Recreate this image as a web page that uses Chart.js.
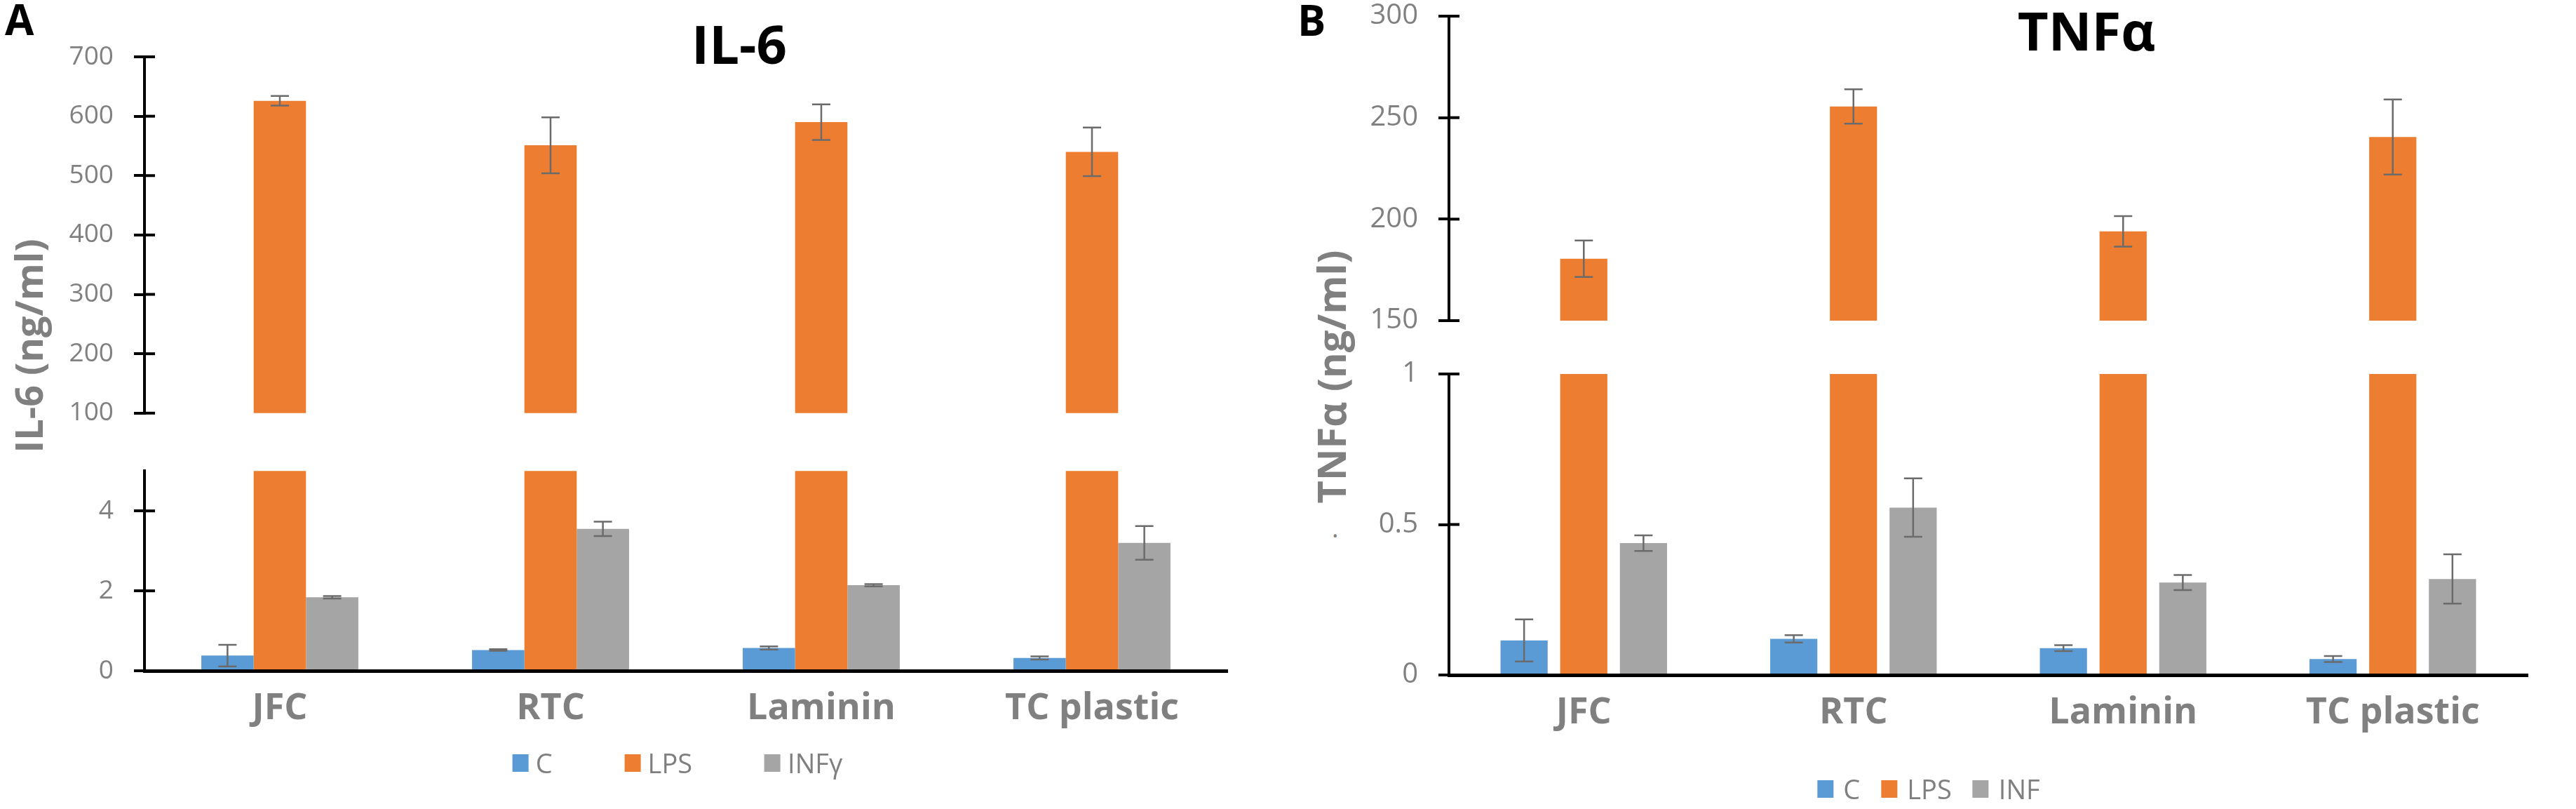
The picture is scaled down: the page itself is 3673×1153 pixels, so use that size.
<!DOCTYPE html>
<html>
<head>
<meta charset="utf-8">
<script src="https://cdn.jsdelivr.net/npm/chart.js@4.4.1/dist/chart.umd.min.js"></script>
<style>
  html, body { margin: 0; padding: 0; background: #fff; }
  body { position: relative; width: 3673px; height: 1153px; overflow: hidden; font-family: "Open Sans", sans-serif; }
  canvas { position: absolute; }
  .txt { position: absolute; line-height: 1; white-space: nowrap; }
  .mid { transform: translateX(-50%); }
  .ytitle { transform: translate(-50%, -50%) rotate(-90deg); font-weight: 700; color: #808080; }
  .legend { position: absolute; display: flex; align-items: center; transform: translateX(-50%); height: 40px; font-size: 38px; line-height: 1; color: #7f7f7f; white-space: nowrap; }
  .legend .item { display: flex; align-items: center; }
  .legend .box { display: inline-block; width: 23px; height: 25px; }
</style>
</head>
<body>

<div class="txt" style="left:7px;top:-3px;font-size:60px;font-weight:700;color:#000">A</div>
<div class="txt" style="left:1850px;top:-2px;font-size:60px;font-weight:700;color:#000">B</div>
<div class="txt mid" style="left:1054px;top:24px;font-size:76px;font-weight:700;color:#000">IL-6</div>
<div class="txt mid" style="left:2975px;top:5px;font-size:76px;font-weight:700;color:#000">TNFα</div>
<div class="txt ytitle" style="left:40px;top:493px;font-size:54px">IL-6 (ng/ml)</div>
<div class="txt ytitle" style="left:1897px;top:537px;font-size:56px">TNFα (ng/ml)</div>
<div class="txt" style="left:1899px;top:735px;font-size:36px;color:#808080">.</div>

<canvas id="aTop"></canvas>
<canvas id="aBottom"></canvas>
<canvas id="bTop"></canvas>
<canvas id="bBottom"></canvas>
<div class="legend" id="legendA"></div>
<div class="legend" id="legendB"></div>

<script>
// categories and series
var categories = ['JFC', 'RTC', 'Laminin', 'TC plastic'];
var seriesA = ['C', 'LPS', 'INFγ'];
var seriesB = ['C', 'LPS', 'INF'];

// IL-6 (ng/ml), mean and error
var il6C = [0.38, 0.52, 0.57, 0.32];
var il6CErr = [0.27, 0.02, 0.04, 0.04];
var il6LPS = [626, 551, 590, 540];
var il6LPSErr = [8, 47, 30, 41];
var il6INF = [1.84, 3.55, 2.14, 3.20];
var il6INFErr = [0.03, 0.18, 0.03, 0.42];

// TNFα (ng/ml), mean and error
var tnfC = [0.115, 0.12, 0.089, 0.053];
var tnfCErr = [0.07, 0.012, 0.01, 0.01];
var tnfLPS = [180.5, 255.5, 194, 240.5];
var tnfLPSErr = [9, 8.5, 7.5, 18.5];
var tnfINF = [0.438, 0.556, 0.307, 0.319];
var tnfINFErr = [0.026, 0.097, 0.025, 0.082];

// tick labels of the broken axes
var il6TopTicks = [100, 200, 300, 400, 500, 600, 700];
var il6BottomTicks = [0, 2, 4];
var tnfTopTicks = [150, 200, 250, 300];
var tnfBottomTicks = [0, 0.5, 1];

var colC = '#5B9BD5', colLPS = '#ED7D31', colINF = '#A5A5A5';
var grey = '#808080';

Chart.defaults.font.family = '"Open Sans", sans-serif';

// error bars, only where the mean sits inside this part of the axis
var errorBars = {
  id: 'errorBars',
  afterDatasetsDraw: function(chart) {
    var ctx = chart.ctx, ys = chart.scales.y;
    chart.data.datasets.forEach(function(ds, di) {
      if (!ds.errors) return;
      chart.getDatasetMeta(di).data.forEach(function(bar, i) {
        var v = ds.data[i], e = ds.errors[i];
        if (v == null || v > ys.max || v < ys.min) return;
        var x = bar.x;
        var y1 = ys.getPixelForValue(v - e), y2 = ys.getPixelForValue(v + e);
        ctx.save();
        ctx.strokeStyle = '#6b6b6b';
        ctx.lineWidth = 2.5;
        ctx.beginPath();
        ctx.moveTo(x, y1); ctx.lineTo(x, y2);
        ctx.moveTo(x - 13, y1); ctx.lineTo(x + 13, y1);
        ctx.moveTo(x - 13, y2); ctx.lineTo(x + 13, y2);
        ctx.stroke();
        ctx.restore();
      });
    });
  }
};

// ticks cross the axis: draw the inner half
var crossTicks = {
  id: 'crossTicks',
  afterDraw: function(chart) {
    var s = chart.scales.y, ctx = chart.ctx;
    ctx.save();
    ctx.strokeStyle = '#000';
    ctx.lineWidth = 4;
    s.ticks.forEach(function(t, i) {
      var y = s.getPixelForTick(i);
      ctx.beginPath();
      ctx.moveTo(s.right, y);
      ctx.lineTo(s.right + 15, y);
      ctx.stroke();
    });
    ctx.restore();
  }
};

// legend as html, built from the chart's own legend items
var htmlLegend = {
  id: 'htmlLegend',
  afterUpdate: function(chart, args, opts) {
    var box = document.getElementById(opts.containerID);
    if (!box) return;
    box.innerHTML = '';
    var items = chart.options.plugins.legend.labels.generateLabels(chart);
    items.forEach(function(item, i) {
      var el = document.createElement('span');
      el.className = 'item';
      if (i > 0) el.style.marginLeft = opts.itemGap + 'px';
      var sw = document.createElement('span');
      sw.className = 'box';
      sw.style.background = item.fillStyle;
      sw.style.marginRight = opts.textGap + 'px';
      el.appendChild(sw);
      el.appendChild(document.createTextNode(item.text));
      box.appendChild(el);
    });
    box.style.left = opts.cx + 'px';
    box.style.top = (opts.cy - 20) + 'px';
  }
};

function makeDatasets(names, c, cErr, lps, lpsErr, inf, infErr) {
  return [
    { label: names[0], data: c, errors: cErr, backgroundColor: colC, clip: 0 },
    { label: names[1], data: lps, errors: lpsErr, backgroundColor: colLPS, clip: 0 },
    { label: names[2], data: inf, errors: infErr, backgroundColor: colINF, clip: 0 }
  ];
}

// one half of a broken-axis panel; area is the plot box in page pixels
function half(p) {
  var cv = document.getElementById(p.id);
  cv.width = p.w; cv.height = p.h;
  cv.style.left = p.left + 'px';
  cv.style.top = p.top + 'px';
  var xH = p.showX ? 100 : 0;
  return new Chart(cv, {
    type: 'bar',
    data: { labels: categories, datasets: p.datasets },
    options: {
      responsive: false,
      animation: false,
      events: [],
      layout: {
        padding: {
          left: 0,
          top: p.area.t - p.top,
          right: p.left + p.w - p.area.r,
          bottom: p.top + p.h - p.area.b - xH
        }
      },
      datasets: { bar: { barPercentage: p.barPct, categoryPercentage: p.catPct, borderWidth: 0 } },
      plugins: {
        legend: { display: false },
        tooltip: { enabled: false },
        htmlLegend: p.legend || {}
      },
      scales: {
        x: {
          display: p.showX,
          grid: { display: false, drawTicks: false },
          border: { display: true, color: '#000', width: 5 },
          ticks: { color: grey, padding: 23, font: { size: 52, weight: 'bold' } },
          afterFit: function(s) { s.height = xH; }
        },
        y: {
          min: p.min, max: p.max,
          grid: { display: true, drawOnChartArea: false, drawTicks: true, tickLength: 15, color: '#000', lineWidth: 4 },
          border: { display: true, color: '#000', width: 4 },
          ticks: {
            color: grey, padding: 29, font: { size: p.tickSize },
            callback: function(v) { return String(v); }
          },
          afterBuildTicks: function(s) { s.ticks = p.ticks.map(function(v) { return { value: v }; }); },
          afterFit: function(s) { s.width = p.area.l - p.left; }
        }
      }
    },
    plugins: [errorBars, crossTicks, htmlLegend]
  });
}

var dsA = makeDatasets(seriesA, il6C, il6CErr, il6LPS, il6LPSErr, il6INF, il6INFErr);
var dsB = makeDatasets(seriesB, tnfC, tnfCErr, tnfLPS, tnfLPSErr, tnfINF, tnfINFErr);

half({ id: 'aTop', left: 0, top: -20, w: 1760, h: 660,
  area: { l: 206, r: 1750, t: 81, b: 598 }, min: 100, max: 700, ticks: il6TopTicks,
  showX: false, barPct: 1, catPct: 0.58, tickSize: 37, datasets: dsA });
half({ id: 'aBottom', left: 0, top: 620, w: 1760, h: 533,
  area: { l: 206, r: 1750, t: 671, b: 956 }, min: 0, max: 5, ticks: il6BottomTicks,
  showX: true, barPct: 1, catPct: 0.58, tickSize: 37, datasets: dsA,
  legend: { containerID: 'legendA', cx: 966, cy: 1087, textGap: 10, itemGap: 103 } });
half({ id: 'bTop', left: 1850, top: -30, w: 1823, h: 540,
  area: { l: 2066, r: 3604, t: 23, b: 463 }, min: 150, max: 300, ticks: tnfTopTicks,
  showX: false, barPct: 0.79, catPct: 0.664, tickSize: 40, datasets: dsB });
half({ id: 'bBottom', left: 1850, top: 480, w: 1823, h: 673,
  area: { l: 2066, r: 3604, t: 528, b: 962 }, min: 0, max: 1, ticks: tnfBottomTicks,
  showX: true, barPct: 0.79, catPct: 0.664, tickSize: 40, datasets: dsB,
  legend: { containerID: 'legendB', cx: 2750, cy: 1124, textGap: 14, itemGap: 30 } });
</script>
</body>
</html>
